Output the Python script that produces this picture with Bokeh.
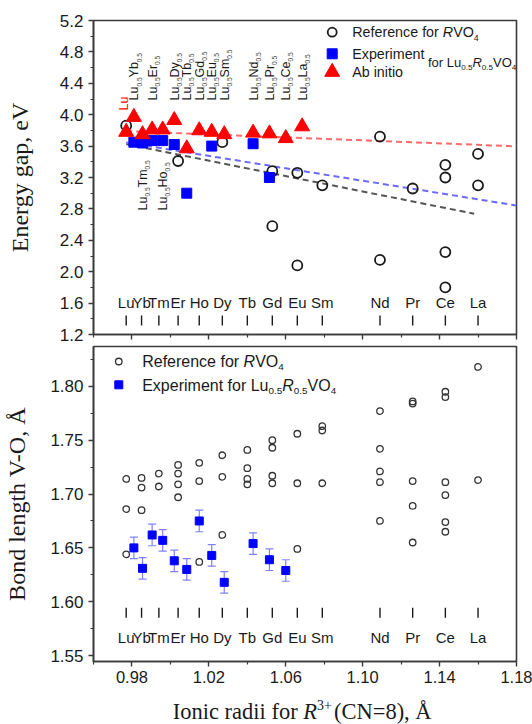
import math
from bokeh.plotting import figure
from bokeh.models import (ColumnDataSource, FixedTicker, Range1d, PrintfTickFormatter, Whisker, TeeHead,
                          CustomLabelingPolicy)
from bokeh.layouts import column
from bokeh.embed import file_html
from bokeh.resources import INLINE
from bokeh.core.properties import value

# ---------------- data ----------------
elements = ["Lu", "Yb", "Tm", "Er", "Ho", "Dy", "Tb", "Gd", "Eu", "Sm", "Nd", "Pr", "Ce", "La"]
radii = [0.977, 0.985, 0.994, 1.004, 1.015, 1.027, 1.040, 1.053, 1.066, 1.079, 1.109, 1.126, 1.143, 1.160]

mix_labels = ["Yb", "Tm", "Er", "Ho", "Dy", "Tb", "Gd", "Eu", "Sm", "Nd", "Pr", "Ce", "La"]
mix_radii = [0.981, 0.9855, 0.9905, 0.996, 1.002, 1.0085, 1.015, 1.0215, 1.028, 1.043, 1.0515, 1.060, 1.0685]
mix_label_low = [False, True, False, True, False, False, False, False, False, False, False, False, False]

# band gap, reference RVO4
ref_gap_x = [0.977, 1.004, 1.027, 1.053, 1.053, 1.066, 1.066, 1.079, 1.109, 1.109,
             1.126, 1.143, 1.143, 1.143, 1.143, 1.160, 1.160]
ref_gap_y = [3.86, 3.41, 3.65, 3.28, 2.58, 3.26, 2.08, 3.10, 3.72, 2.15,
             3.06, 3.36, 3.20, 2.25, 1.80, 3.50, 3.10]
# band gap, experiment Lu0.5R0.5VO4
exp_gap_x = [0.981, 0.9855, 0.9905, 0.996, 1.002, 1.0085, 1.0215, 1.043, 1.0515]
exp_gap_y = [3.65, 3.64, 3.67, 3.67, 3.62, 3.00, 3.60, 3.63, 3.20]
# band gap, ab initio
abi_gap_x = [0.977, 0.981, 0.9855, 0.9905, 0.996, 1.002, 1.0085, 1.015, 1.0215, 1.028,
             1.043, 1.0515, 1.060, 1.0685]
abi_gap_y = [3.78, 3.97, 3.75, 3.81, 3.81, 3.93, 3.57, 3.80, 3.78, 3.75,
             3.77, 3.76, 3.70, 3.85]
# linear trends (end points)
fit_abi_x = [0.977, 1.18]
fit_abi_y = [3.79, 3.597]
fit_exp_x = [0.977, 1.18]
fit_exp_y = [3.645, 2.843]
fit_ref_x = [0.977, 1.158]
fit_ref_y = [3.625, 2.738]

# bond length V-O, reference RVO4
ref_bond_x = [0.977] * 3 + [0.985] * 3 + [0.994] * 2 + [1.004] * 4 + [1.015] * 3 + [1.027] * 3 + \
             [1.040] * 4 + [1.053] * 4 + [1.066] * 3 + [1.079] * 3 + [1.109] * 5 + [1.126] * 5 + \
             [1.143] * 6 + [1.160] * 2
ref_bond_y = [1.714, 1.686, 1.644,
              1.715, 1.706, 1.685,
              1.719, 1.707,
              1.727, 1.719, 1.709, 1.697,
              1.729, 1.712, 1.637,
              1.736, 1.716, 1.662,
              1.741, 1.724, 1.714, 1.709,
              1.750, 1.743, 1.717, 1.710,
              1.756, 1.710, 1.649,
              1.763, 1.759, 1.710,
              1.777, 1.742, 1.721, 1.711, 1.675,
              1.786, 1.784, 1.712, 1.689, 1.655,
              1.795, 1.790, 1.711, 1.699, 1.674, 1.665,
              1.818, 1.713]
# bond length, experiment Lu0.5R0.5VO4
exp_bond_x = [0.981, 0.9855, 0.9905, 0.996, 1.002, 1.0085, 1.015, 1.0215, 1.028, 1.043, 1.0515, 1.060]
exp_bond_y = [1.650, 1.631, 1.662, 1.657, 1.638, 1.630, 1.675, 1.643, 1.618, 1.654, 1.639, 1.629]
exp_bond_err = [0.010] * 12

x_major = [0.98, 1.02, 1.06, 1.10, 1.14, 1.18]
x_minor = [0.96, 1.00, 1.04, 1.08, 1.12, 1.16]
y1_major = [1.2, 1.6, 2.0, 2.4, 2.8, 3.2, 3.6, 4.0, 4.4, 4.8, 5.2]
y1_minor = [1.4, 1.8, 2.2, 2.6, 3.0, 3.4, 3.8, 4.2, 4.6, 5.0]
y2_major = [1.55, 1.60, 1.65, 1.70, 1.75, 1.80]
y2_minor = [1.575, 1.625, 1.675, 1.725, 1.775, 1.825]

# ---------------- geometry helpers ----------------
X0, X1 = 0.96, 1.18
FW = 423
Y1B, Y1T = 1.2, 5.2
FH1 = 314
Y2B, Y2T = 1.5445, 1.837
FH2 = 315
FH3 = 29
PXX = FW / (X1 - X0)
PXY1 = FH1 / (Y1T - Y1B)
PXY2 = FH2 / (Y2T - Y2B)
MID = 0.35  # distance (in em) from the alphabetic baseline up to the middle of the text box


def xd(px):
    return X0 + px / PXX


def yd1(py):
    return Y1T - py / PXY1


def yd2(py):
    return Y2T - py / PXY2


def yd3(py):
    return FH3 - py


AR = {c: 556 for c in "0123456789abdeghnopqu"}
AR.update({'.': 278, ' ': 278, 'c': 500, 'f': 278, 'i': 222, 'j': 222, 'k': 500, 'l': 222, 'm': 833,
           'r': 333, 's': 500, 't': 278, 'v': 500, 'w': 722, 'x': 500, 'y': 500, 'z': 500,
           'A': 667, 'B': 667, 'C': 722, 'D': 722, 'E': 667, 'F': 611, 'G': 778, 'H': 722, 'I': 278,
           'L': 556, 'M': 833, 'N': 722, 'O': 778, 'P': 667, 'R': 722, 'S': 667, 'T': 611, 'V': 667,
           'Y': 667, '+': 584, '=': 584, '(': 333, ')': 333, ',': 278, '-': 333})
TR = {'I': 333, 'o': 500, 'n': 500, 'i': 278, 'c': 444, ' ': 250, 'r': 333, 'a': 444, 'd': 500,
      'f': 333, 'R': 611, '3': 500, '+': 564, '(': 333, ')': 333, 'C': 667, 'N': 722, '=': 564,
      '8': 500, ',': 250, 'Å': 722}


def tw(s, size, table):
    return sum(table.get(c, 556) for c in s) * size / 1000.0


def rich(p, yfun, x0_px, base_px, parts, size, color="#1a1a1a", family="Liberation Sans", table=AR,
         center=False, sup_gap=0.0):
    """Mixed-style text on one baseline (base_px, pixels from frame top)."""
    def fs_of(kind):
        return size * 0.62 if kind in ("sub", "sup") else size

    def adv(t, k):
        return tw(t, fs_of(k), table) + (sup_gap if k == "sup" else 0.0)
    total = sum(adv(t, k) for t, k in parts)
    x = x0_px - (total / 2 if center else 0)
    for txt, kind in parts:
        fs = fs_of(kind)
        dy = size * 0.26 if kind == "sub" else (-size * 0.42 if kind == "sup" else 0)
        style = "italic" if kind == "i" else "normal"
        p.text(x=[xd(x)], y=[yfun(base_px + dy - MID * fs)], text=[txt], text_font=value(family),
               text_font_size=f"{fs:.1f}px", text_font_style=style, text_color=color,
               text_align="left", text_baseline="middle")
        x += adv(txt, kind)


def style_axes(p):
    p.outline_line_color = "#3a3a3a"
    p.outline_line_width = 1.6
    p.background_fill_color = "white"
    p.border_fill_color = "white"
    p.xgrid.visible = False
    p.ygrid.visible = False
    for ax in (p.xaxis[0], p.yaxis[0]):
        ax.axis_line_color = "#3a3a3a"
        ax.axis_line_width = 1.6
        ax.major_tick_line_color = "#3a3a3a"
        ax.minor_tick_line_color = "#3a3a3a"
        ax.major_tick_line_width = 1.4
        ax.minor_tick_line_width = 1.2
        ax.major_tick_in = 0
        ax.major_tick_out = 5
        ax.minor_tick_in = 0
        ax.minor_tick_out = 3
        ax.major_label_text_font = "Liberation Sans"
        ax.major_label_text_font_size = "17px"
        ax.major_label_text_color = "#1a1a1a"
    p.xaxis.ticker = FixedTicker(ticks=x_major, minor_ticks=x_minor)
    p.xaxis.formatter = PrintfTickFormatter(format="%.2f")


# ---------------- top panel ----------------
p1 = figure(frame_width=FW, frame_height=FH1, x_range=Range1d(X0, X1), y_range=Range1d(Y1B, Y1T),
            output_backend="svg", toolbar_location=None, min_border_left=93, min_border_right=16,
            min_border_top=20, min_border_bottom=10)
style_axes(p1)
p1.yaxis.ticker = FixedTicker(ticks=y1_major, minor_ticks=y1_minor)
p1.yaxis.formatter = PrintfTickFormatter(format="%.1f")
p1.yaxis.major_label_standoff = 5
p1.yaxis.axis_label = "Energy gap, eV"
p1.yaxis.axis_label_text_font = "Liberation Serif"
p1.yaxis.axis_label_text_font_size = "24px"
p1.yaxis.axis_label_text_font_style = "normal"
p1.yaxis.axis_label_text_color = "#1a1a1a"
p1.yaxis.axis_label_standoff = 24
# ticks only on the top panel's x axis
p1.xaxis.major_label_text_font_size = "1px"
p1.xaxis.major_label_standoff = 0
p1.xaxis.major_label_policy = CustomLabelingPolicy(code="return []")

dash = "6 4"
p1.line(fit_ref_x, fit_ref_y, line_color="#555555", line_width=2, line_dash=dash)
p1.line(fit_exp_x, fit_exp_y, line_color="#6a6aff", line_width=2, line_dash=dash)
p1.line(fit_abi_x, fit_abi_y, line_color="#ff6a6a", line_width=2, line_dash=dash)
p1.scatter(ref_gap_x, ref_gap_y, marker="circle", size=10, fill_color=None, line_color="#1a1a1a",
           line_width=1.8)
p1.scatter(exp_gap_x, exp_gap_y, marker="square", size=10, fill_color="#0000ff", line_color="#0000ff")
p1.scatter(abi_gap_x, abi_gap_y, marker="triangle", size=15, fill_color="#ff0000", line_color="#ff0000")

el_src = ColumnDataSource(dict(x=radii, text=elements))
p1.segment(x0="x", x1="x", y0=1.315, y1=1.442, source=el_src, line_color="#1a1a1a", line_width=1.4)
p1.text(x="x", y=1.611, text="text", source=el_src, text_font=value("Liberation Sans"),
        text_font_size="15px", text_align="center", text_baseline="middle", text_color="#1a1a1a")

# vertical compound labels Lu0.5R0.5 (rotated, read bottom to top)
MAIN, SUB = 12.5, 6.6
mx, my, mt, sx, sy, st = [], [], [], [], [], []
for name, xc, low in zip(mix_labels, mix_radii, mix_label_low):
    base = 190.0 if low else 80.0
    chunks = [("Lu", "m"), ("0.5", "s"), (name, "m"), ("0.5", "s")]
    pos = 0.0
    for txt, kind in chunks:
        if kind == "m":
            mx.append(xc + 0.5 / PXX)
            my.append(yd1(base - pos))
            mt.append(txt)
            pos += tw(txt, MAIN, AR)
        else:
            sx.append(xc + (MID * MAIN + 2.6 - MID * SUB + 0.5) / PXX)
            sy.append(yd1(base - pos))
            st.append(txt)
            pos += tw(txt, SUB, AR)
p1.text(x=mx, y=my, text=mt, angle=math.pi / 2, text_font=value("Liberation Sans"),
        text_font_size=f"{MAIN}px", text_align="left", text_baseline="middle", text_color="#1a1a1a")
p1.text(x=sx, y=sy, text=st, angle=math.pi / 2, text_font=value("Liberation Sans"),
        text_font_size=f"{SUB}px", text_align="left", text_baseline="middle", text_color="#444444")
p1.text(x=[radii[0] - 2 / PXX], y=[yd1(90.0)], text=[elements[0]], angle=math.pi / 2,
        text_font=value("Liberation Sans"), text_font_size=f"{MAIN}px", text_align="left",
        text_baseline="middle", text_color="#ff0000")

# legend (top)
p1.scatter([xd(238.7)], [yd1(11.7)], marker="circle", size=9, fill_color=None, line_color="#1a1a1a",
           line_width=1.8)
p1.scatter([xd(238.7)], [yd1(33.3)], marker="square", size=10, fill_color="#0000ff", line_color="#0000ff")
p1.scatter([xd(238.7)], [yd1(51.5)], marker="triangle", size=15, fill_color="#ff0000", line_color="#ff0000")
rich(p1, yd1, 258.7, 16.8, [("Reference for ", "n"), ("R", "i"), ("VO", "n"), ("4", "sub")], 14.3)
rich(p1, yd1, 258.7, 38.4, [("Experiment", "n")], 14.3)
rich(p1, yd1, 258.7, 56.8, [("Ab initio", "n")], 14.3)
rich(p1, yd1, 334.5, 46.3, [("for Lu", "n"), ("0.5", "sub"), ("R", "i"), ("0.5", "sub"), ("VO", "n"),
                            ("4", "sub")], 13.0)

# ---------------- bottom panel ----------------
p2 = figure(frame_width=FW, frame_height=FH2, x_range=p1.x_range, y_range=Range1d(Y2B, Y2T),
            output_backend="svg", toolbar_location=None, min_border_left=93, min_border_right=16,
            min_border_top=2, min_border_bottom=34)
style_axes(p2)
p2.xaxis.major_label_text_font_size = "16.5px"
p2.xaxis.major_label_standoff = 4
p2.yaxis.ticker = FixedTicker(ticks=y2_major, minor_ticks=y2_minor)
p2.yaxis.formatter = PrintfTickFormatter(format="%.2f")
p2.yaxis.major_label_standoff = 5
p2.yaxis.axis_label = "Bond length V-O, Å"
p2.yaxis.axis_label_text_font = "Liberation Serif"
p2.yaxis.axis_label_text_font_size = "24px"
p2.yaxis.axis_label_text_font_style = "normal"
p2.yaxis.axis_label_text_color = "#1a1a1a"
p2.yaxis.axis_label_standoff = 17

p2.scatter(ref_bond_x, ref_bond_y, marker="circle", size=6.5, fill_color=None, line_color="#333333",
           line_width=1.3)
upper = [y + e for y, e in zip(exp_bond_y, exp_bond_err)]
lower = [y - e for y, e in zip(exp_bond_y, exp_bond_err)]
wsrc = ColumnDataSource(dict(x=exp_bond_x, upper=upper, lower=lower))
wh = Whisker(source=wsrc, base="x", upper="upper", lower="lower", dimension="height",
             line_color="#8080ff", line_width=1.2, level="underlay",
             upper_head=TeeHead(size=8, line_color="#8080ff", line_width=1.2),
             lower_head=TeeHead(size=8, line_color="#8080ff", line_width=1.2))
p2.add_layout(wh)
p2.scatter(exp_bond_x, exp_bond_y, marker="square", size=8, fill_color="#0000ff", line_color="#0000ff")

el_src2 = ColumnDataSource(dict(x=radii, text=elements))
p2.segment(x0="x", x1="x", y0=1.5852, y1=1.5945, source=el_src2, line_color="#1a1a1a", line_width=1.4)
p2.text(x="x", y=1.567, text="text", source=el_src2, text_font=value("Liberation Sans"),
        text_font_size="15px", text_align="center", text_baseline="middle", text_color="#1a1a1a")

# legend (bottom)
p2.scatter([xd(25.3)], [yd2(15.0)], marker="circle", size=6.5, fill_color=None, line_color="#333333",
           line_width=1.3)
p2.scatter([xd(25.3)], [yd2(38.3)], marker="square", size=8, fill_color="#0000ff", line_color="#0000ff")
rich(p2, yd2, 48.7, 20.1, [("Reference for ", "n"), ("R", "i"), ("VO", "n"), ("4", "sub")], 16)
rich(p2, yd2, 48.7, 44.1, [("Experiment for Lu", "n"), ("0.5", "sub"), ("R", "i"), ("0.5", "sub"),
                           ("VO", "n"), ("4", "sub")], 16)

# ---------------- x-axis title strip ----------------
p3 = figure(frame_width=FW, frame_height=FH3, x_range=p1.x_range, y_range=Range1d(0, FH3),
            output_backend="svg", toolbar_location=None, min_border_left=93, min_border_right=16,
            min_border_top=0, min_border_bottom=0, x_axis_type=None, y_axis_type=None)
p3.outline_line_color = None
p3.xgrid.visible = False
p3.ygrid.visible = False
rich(p3, yd3, FW / 2, 23.5, [("Ionic radii for ", "n"), ("R", "i"), ("3+", "sup"), (" (CN=8), Å", "n")],
     22.5, family="Liberation Serif", table=TR, center=True, sup_gap=2.0)

layout = column(p1, p2, p3, spacing=0)
open("out.html", "w").write(file_html(layout, INLINE))
